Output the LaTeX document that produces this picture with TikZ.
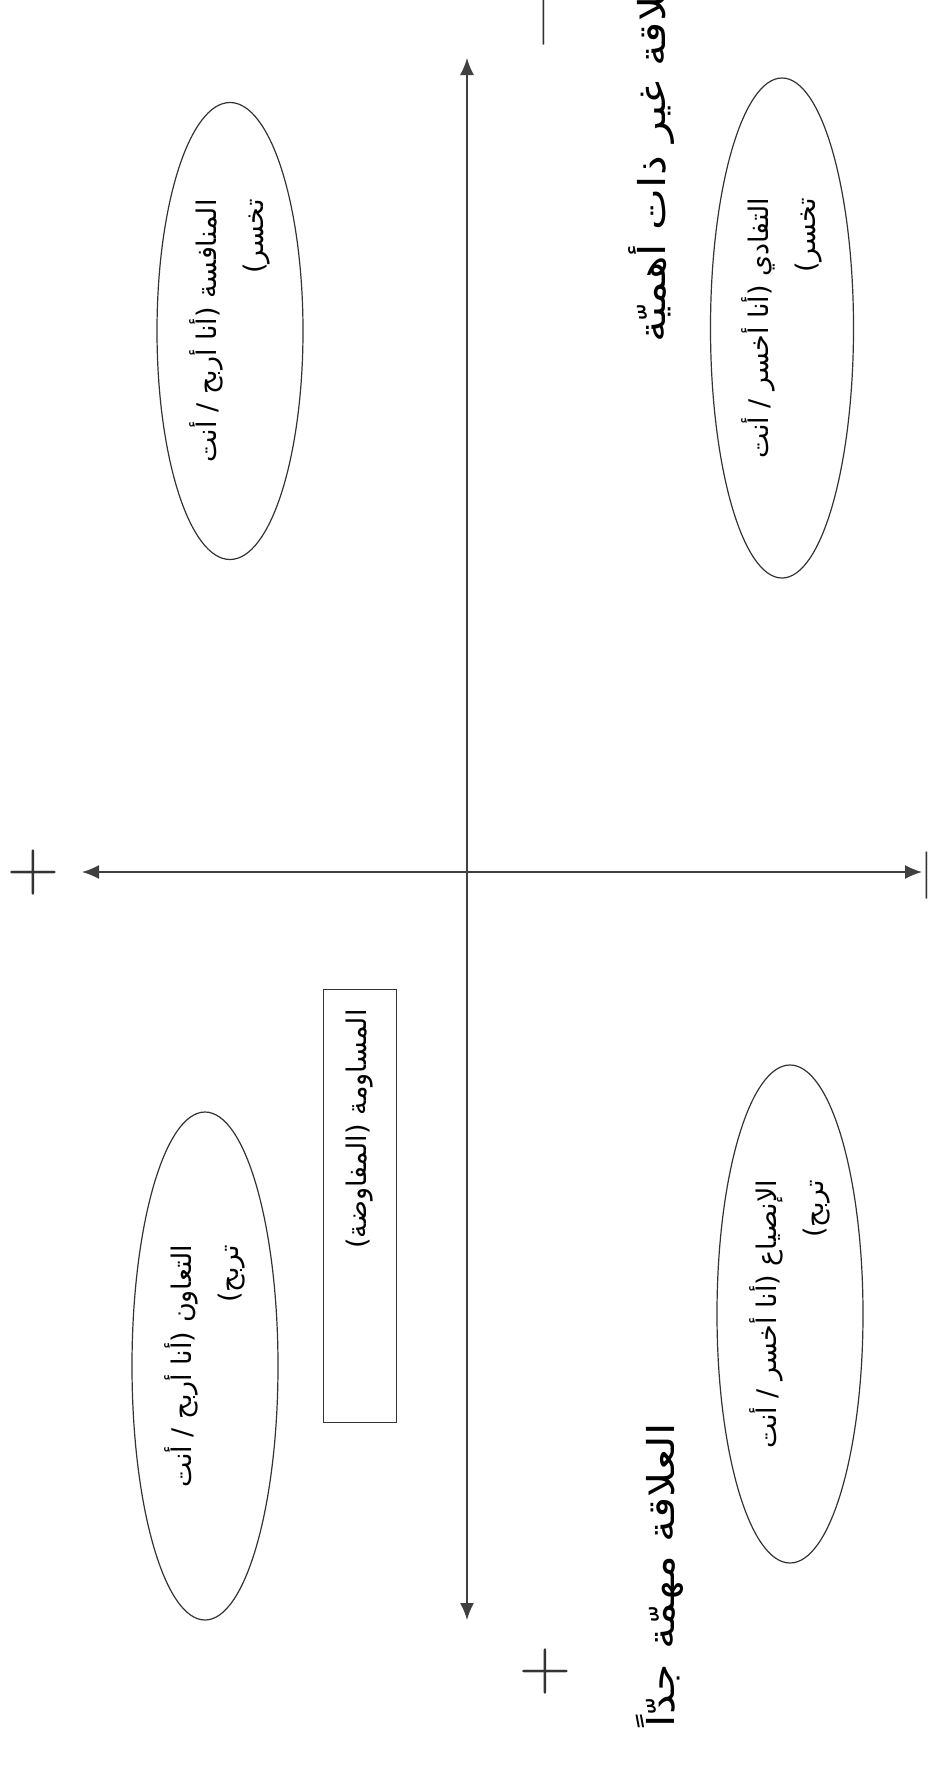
\documentclass[tikz,border=0pt]{standalone}
\usepackage{fontspec}
\TeXXeTstate=1
\newfontfamily\arabicfont[Script=Arabic]{DejaVu Sans}
\usetikzlibrary{arrows.meta,shapes.geometric,positioning}

\begin{document}
\begin{tikzpicture}[x=1pt,y=-1pt,
  quad/.style={ellipse,draw=black!80,line width=1.2pt,rotate=90,inner sep=0pt,align=right,font=\arabicfont\fontsize{27}{47}\selectfont},
  bargainbox/.style={rectangle,draw=black!80,line width=1.2pt,rotate=90,minimum width=433pt,minimum height=73pt,text width=393pt,align=right,inner sep=0pt,font=\arabicfont\fontsize{27}{30}\selectfont},
  axis/.style={{Latex[length=17pt,width=14pt]}-{Latex[length=17pt,width=14pt]},line width=1.6pt,black!75},
  lbl/.style={rotate=90,xscale=1.2,inner sep=0pt,font=\arabicfont\fontsize{37}{40}\selectfont},
  sign/.style={inner sep=0pt,black!80,font=\fontsize{72}{72}\selectfont}
]
  \useasboundingbox (0,0) rectangle (929,1770);

  % axes
  \coordinate (top) at (467,58);
  \coordinate (bottom) at (467,1620);
  \coordinate (left) at (82,872);
  \coordinate (right) at (922,872);
  \draw[axis] (top) -- (bottom);
  \draw[axis] (left) -- (right);

  % signs at the axis ends
  \node[sign] (plusL) at (33,873) {+};
  \node[sign] (plusB) at (545,1672) {+};
  \node[sign,rotate=90,font=\fontsize{100}{100}\selectfont] (minusR) at (940,876) {–};
  \node[sign,rotate=90,font=\fontsize{100}{100}\selectfont] (minusT) at (557,22) {–};

  % the four styles
  \node[quad,minimum width=457pt,minimum height=146pt] (compete) at (230,331)
    {\beginR المنافسة (أنا أربح / أنت\endR\\\beginR تخسر)\endR};
  \node[quad,minimum width=500pt,minimum height=143pt] (avoid) at (782,328)
    {\beginR التفادي (أنا أخسر / أنت\endR\\\beginR تخسر)\endR};
  \node[quad,minimum width=508pt,minimum height=146pt] (collab) at (205,1366)
    {\beginR التعاون (أنا أربح / أنت\endR\\\beginR تربح)\endR};
  \node[quad,minimum width=498pt,minimum height=146pt] (accomm) at (790,1314)
    {\beginR الإنصياع (أنا أخسر / أنت\endR\\\beginR تربح)\endR};

  \node[bargainbox] (bargain) at (360,1206) {\beginR المساومة (المفاوضة)\endR};

  % relationship labels
  \node[lbl,anchor=west] (unimp) at (652,343) {\beginR علاقة غير ذات أهميّة\endR};
  \node[lbl,anchor=east] (imp) at (660,1423) {\beginR العلاقة مهمّة جدّاً\endR};
\end{tikzpicture}
\end{document}
